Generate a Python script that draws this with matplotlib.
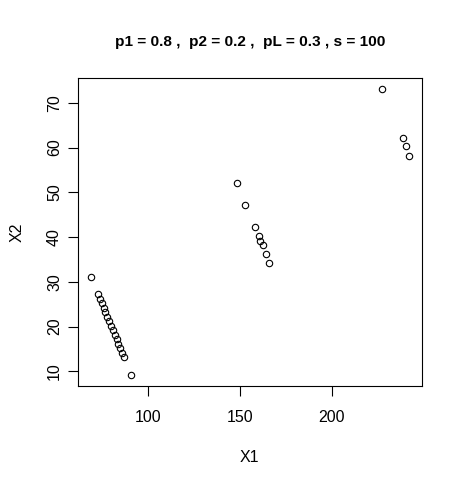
import numpy as np
import matplotlib
matplotlib.use('Agg')
import matplotlib.pyplot as plt

plt.rc('font', family=['Liberation Sans', 'DejaVu Sans'])

#===================
# Data
#===================
x1_low  = [68.7, 72.7, 73.7, 74.7, 75.7, 76.7, 77.7, 78.7, 79.7, 80.7,
           81.7, 82.8, 83.8, 84.8, 85.9, 86.9, 90.9]
x2_low  = [31.1, 27.2, 26.2, 25.2, 24.2, 23.2, 22.2, 21.2, 20.2, 19.2,
           18.2, 17.2, 16.2, 15.2, 14.2, 13.2, 9.3]
x1_mid  = [148.3, 152.8, 157.9, 160.1, 160.9, 162.3, 164.2, 165.8]
x2_mid  = [52.1, 47.2, 42.2, 40.3, 39.2, 38.2, 36.2, 34.3]
x1_high = [227.2, 238.5, 240.4, 241.9]
x2_high = [73.0, 62.1, 60.3, 58.2]

title = 'p1 = 0.8 ,  p2 = 0.2 ,  pL = 0.3 , s = 100'

X1 = np.array(x1_low + x1_mid + x1_high)
X2 = np.array(x2_low + x2_mid + x2_high)

#===================
# Plot
#===================
fig = plt.figure(figsize=(4.62, 4.84), dpi=100)
ax = fig.add_axes([0.1688, 0.2025, 0.9126 - 0.1688, 0.8388 - 0.2025])

ax.plot(X1, X2, 'o', mfc='none', mec='k', ms=4.6, mew=0.8)

# R style 4% padding
xr = X1.max() - X1.min()
yr = X2.max() - X2.min()
ax.set_xlim(X1.min() - 0.04*xr, X1.max() + 0.04*xr)
ax.set_ylim(X2.min() - 0.04*yr, X2.max() + 0.04*yr)

ax.set_xticks([100, 150, 200])
ax.set_yticks([10, 20, 30, 40, 50, 60, 70])
ax.tick_params(length=7, width=0.8, labelsize=11.5)
ax.tick_params(axis='x', pad=10)
ax.tick_params(axis='y', pad=4.5)
plt.setp(ax.get_yticklabels(), rotation=90, va='center')
for s in ax.spines.values():
    s.set_linewidth(0.8)

ax.set_xlabel('X1', fontsize=11.5, labelpad=18)
ax.set_ylabel('X2', fontsize=11.5, labelpad=16)
ax.set_title(title, fontsize=11.1, fontweight='bold', pad=23)

plt.savefig('out.png', dpi=100)
